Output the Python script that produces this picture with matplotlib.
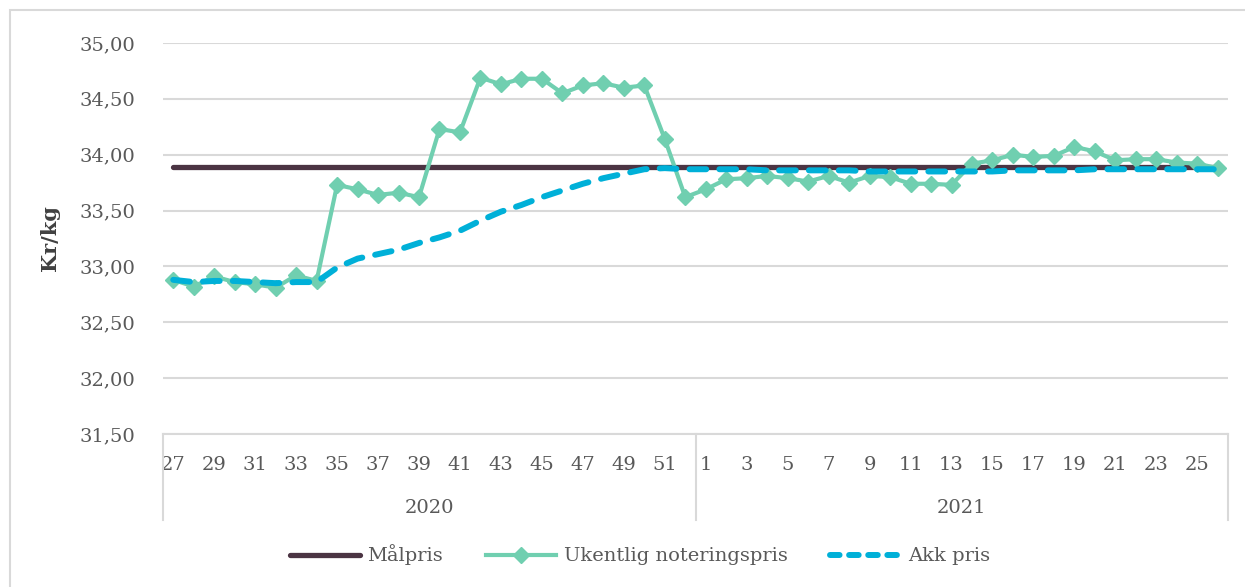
import matplotlib
matplotlib.use("Agg")
import matplotlib.pyplot as plt
from matplotlib.patches import Rectangle
from matplotlib.lines import Line2D
import matplotlib.transforms as mtransforms

# Week numbers on the category axis
weeks_2020 = list(range(27, 53))
weeks_2021 = list(range(1, 27))
years = ["2020", "2021"]

# Target price (flat)
malpris = [33.89] * 52

# Weekly quoted price
ukentlig = [32.88, 32.82, 32.91, 32.86, 32.84, 32.81, 32.92, 32.87, 33.73, 33.69,
            33.64, 33.66, 33.62, 34.23, 34.20, 34.69, 34.63, 34.68, 34.68, 34.55,
            34.62, 34.64, 34.60, 34.62, 34.14, 33.62,
            33.69, 33.78, 33.79, 33.81, 33.79, 33.76, 33.81, 33.75, 33.81, 33.80,
            33.74, 33.74, 33.73, 33.92, 33.95, 34.00, 33.98, 33.99, 34.07, 34.03,
            33.95, 33.96, 33.96, 33.93, 33.92, 33.88]

# Accumulated price
akk = [32.88, 32.86, 32.87, 32.87, 32.86, 32.85, 32.86, 32.86, 32.99, 33.07,
       33.11, 33.15, 33.21, 33.26, 33.32, 33.41, 33.49, 33.55, 33.62, 33.68,
       33.74, 33.79, 33.83, 33.87, 33.88, 33.87,
       33.87, 33.87, 33.87, 33.86, 33.86, 33.86, 33.86, 33.86, 33.85, 33.85,
       33.85, 33.85, 33.85, 33.85, 33.85, 33.86, 33.86, 33.86, 33.86, 33.87,
       33.87, 33.87, 33.87, 33.87, 33.87, 33.87]

y_ticks = [31.5, 32.0, 32.5, 33.0, 33.5, 34.0, 34.5, 35.0]


def main():
    """Draw the price chart."""
    plt.rcParams["font.family"] = ["DejaVu Serif"]
    text_color = "#595959"
    grid_color = "#d9d9d9"

    fig = plt.figure(figsize=(12.45, 5.87), dpi=100)
    ax = fig.add_axes([163 / 1245, 1 - 434 / 587, 1065 / 1245, 391 / 587])

    # Outer chart border
    fig.patches.append(Rectangle((10 / 1245, -0.01), 1.5, 1 - 10 / 587 + 0.01,
                                 transform=fig.transFigure, fill=False,
                                 edgecolor=grid_color, linewidth=1.5))

    x = list(range(len(weeks_2020) + len(weeks_2021)))

    ax.plot(x, malpris, color="#4b3443", linewidth=3.8, solid_capstyle="round",
            label="Målpris", zorder=2)
    ax.plot(x, ukentlig, color="#70cfb0", linewidth=3.0, marker="D", markersize=8,
            label="Ukentlig noteringspris", zorder=3)
    ax.plot(x, akk, color="#00b0d8", linewidth=4.3, linestyle=(0, (2.8, 2.2)),
            dash_capstyle="round", label="Akk pris", zorder=4)

    ax.set_xlim(-0.5, len(x) - 0.5)
    ax.set_ylim(31.5, 35.0)
    ax.set_yticks(y_ticks)
    ax.set_yticklabels([f"{v:.2f}".replace(".", ",") for v in y_ticks])
    ax.grid(axis="y", color=grid_color, linewidth=1.5)
    ax.set_axisbelow(True)

    # Week labels, every other category
    labels = [str(w) for w in weeks_2020 + weeks_2021]
    ax.set_xticks(x[::2])
    ax.set_xticklabels(labels[::2])
    ax.tick_params(axis="both", length=0, labelsize=14, colors=text_color)
    ax.tick_params(axis="x", pad=16)
    ax.tick_params(axis="y", pad=20)

    for side in ["top", "right", "left"]:
        ax.spines[side].set_visible(False)
    ax.spines["bottom"].set_color(grid_color)
    ax.spines["bottom"].set_linewidth(1.5)

    # Year grouping lines and labels
    trans = mtransforms.blended_transform_factory(ax.transData, ax.transAxes)
    n20 = len(weeks_2020)
    for xpos in [-0.5, n20 - 0.5, len(x) - 0.5]:
        ax.plot([xpos, xpos], [0, -0.22], color=grid_color, linewidth=1.5,
                transform=trans, clip_on=False)
    ax.text((n20 - 1) / 2, -0.19, years[0], transform=trans, ha="center",
            va="center", fontsize=14, color=text_color)
    ax.text(n20 + (len(weeks_2021) - 1) / 2, -0.19, years[1], transform=trans,
            ha="center", va="center", fontsize=14, color=text_color)

    ax.set_ylabel("Kr/kg", fontsize=15, fontweight="bold", color="#404040", labelpad=14)

    handles = [
        Line2D([], [], color="#4b3443", linewidth=3.8, solid_capstyle="round"),
        Line2D([], [], color="#70cfb0", linewidth=3.0, marker="D", markersize=8),
        Line2D([], [], color="#00b0d8", linewidth=4.3, linestyle=(0, (1.6, 1.6)),
               dash_capstyle="round"),
    ]
    fig.legend(handles, ["Målpris", "Ukentlig noteringspris", "Akk pris"],
               loc="center", bbox_to_anchor=(640 / 1245, 1 - 555 / 587), ncol=3,
               frameon=False, fontsize=14, handlelength=3.6, columnspacing=2.2,
               handletextpad=0.4, labelcolor=text_color)

    fig.savefig("out.png", dpi=100)


if __name__ == "__main__":
    main()
